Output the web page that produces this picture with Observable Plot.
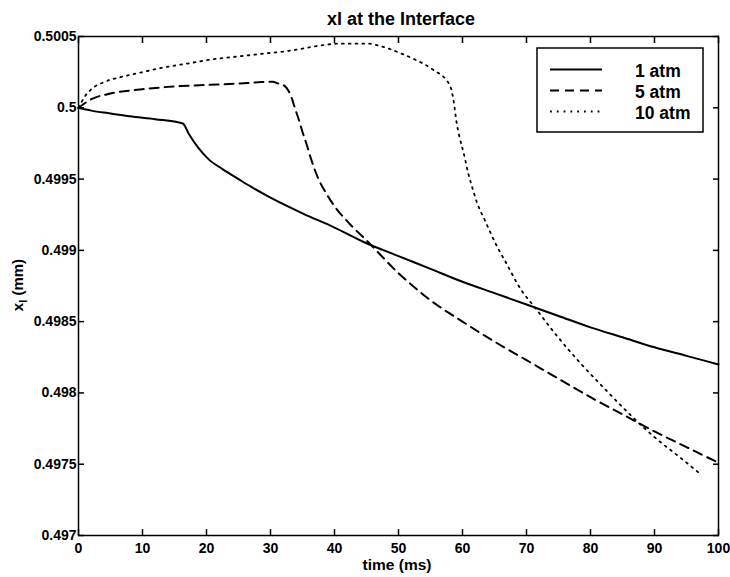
<!DOCTYPE html>
<html><head><meta charset="utf-8">
<script src="https://cdn.jsdelivr.net/npm/d3@7"></script>
<script src="https://cdn.jsdelivr.net/npm/@observablehq/plot@0.6"></script>
<style>
body{margin:0;background:#fff;}
#chart svg{display:block;}
</style>
</head><body><div id="chart"></div>
<script>
const titleText = "xl at the Interface";
const xLabel = "time (ms)";
const seriesNames = ["1 atm", "5 atm", "10 atm"];

const t1 = [0, 2, 5, 8, 12, 16.3, 17.2, 18.7, 20.3, 22.5, 25, 27, 30, 35, 40, 45, 50, 55, 60, 65, 70, 75, 80, 85, 90, 95, 100];
const v1 = [0.5, 0.49998, 0.49996, 0.49994, 0.49992, 0.49989, 0.49982, 0.49972, 0.49964, 0.49957, 0.4995, 0.499445, 0.49937, 0.49926, 0.49916, 0.49905, 0.49896, 0.49887, 0.49878, 0.4987, 0.49862, 0.49854, 0.49846, 0.49839, 0.49832, 0.49826, 0.4982];

const t5 = [0, 2, 5, 10, 15, 20, 25, 28.6, 30.3, 31.2, 32.2, 32.8, 33.3, 33.8, 34.4, 35, 35.6, 36.2, 36.8, 37.5, 38.7, 40, 42.5, 45, 50, 55, 60, 65, 70, 75, 80, 85, 90, 95, 100];
const v5 = [0.5, 0.50006, 0.5001, 0.50013, 0.50015, 0.50016, 0.50017, 0.50018, 0.500182, 0.50017, 0.500154, 0.50012, 0.50007, 0.5, 0.49992, 0.49983, 0.49975, 0.49966, 0.49958, 0.4995, 0.4994, 0.49931, 0.49918, 0.49907, 0.49884, 0.49865, 0.4985, 0.49836, 0.49823, 0.4981, 0.49797, 0.49785, 0.49773, 0.49762, 0.49751];

const t10 = [0, 1, 2, 4, 7, 10, 13, 17, 21, 25, 29, 33, 38.3, 40.8, 45.3, 47, 51, 52.5, 55.3, 58, 58.3, 58.6, 59.1, 59.5, 60.2, 60.9, 61.6, 62.3, 63.4, 65.6, 66.6, 69.2, 71.3, 74.4, 78.6, 82.2, 85.9, 90, 94.2, 97.2];
const v10 = [0.5, 0.50008, 0.50013, 0.50018, 0.50022, 0.50025, 0.50028, 0.50031, 0.50034, 0.50036, 0.50038, 0.5004, 0.50044, 0.50045, 0.50045, 0.500435, 0.50037, 0.50034, 0.50027, 0.50016, 0.50012, 0.50005, 0.49989, 0.4998, 0.49968, 0.49954, 0.49943, 0.49933, 0.49922, 0.49901, 0.49893, 0.49872, 0.4986, 0.49842, 0.4982, 0.49803, 0.49786, 0.49769, 0.49754, 0.49743];

const xTicks = [0, 10, 20, 30, 40, 50, 60, 70, 80, 90, 100];
const yTicks = [0.497, 0.4975, 0.498, 0.4985, 0.499, 0.4995, 0.5, 0.5005];

const styles = [
  {dash: null, width: 2},
  {dash: "9,6", width: 2},
  {dash: "1.8,5", width: 1.8}
];

const toRows = (ts, vs, name) => ts.map((t, i) => ({t, v: vs[i], name}));
const rows = [toRows(t1, v1, seriesNames[0]), toRows(t5, v5, seriesNames[1]), toRows(t10, v10, seriesNames[2])];

const font = "'Liberation Sans', Arial, Helvetica, sans-serif";

const plot = Plot.plot({
  width: 730, height: 577,
  marginLeft: 78, marginRight: 12, marginTop: 36, marginBottom: 42,
  style: {fontFamily: font, fontWeight: "bold", fontSize: "14px", color: "black", background: "white"},
  x: {domain: [0, 100]},
  y: {domain: [0.497, 0.5005]},
  marks: [
    Plot.axisX(xTicks, {anchor: "bottom", tickSize: -6, tickPadding: 14, strokeWidth: 1.5, label: null, tickFormat: d => String(d), fontSize: 14}),
    Plot.axisX(xTicks, {anchor: "top", tickSize: -6, strokeWidth: 1.5, label: null, tickFormat: () => ""}),
    Plot.axisY(yTicks, {anchor: "left", tickSize: -6, tickPadding: 8, strokeWidth: 1.5, label: null, tickFormat: d => String(d), fontSize: 14}),
    Plot.axisY(yTicks, {anchor: "right", tickSize: -6, strokeWidth: 1.5, label: null, tickFormat: () => ""}),
    ...rows.map((r, i) => Plot.line(r, {x: "t", y: "v", curve: "monotone-x", stroke: "black", strokeWidth: styles[i].width, strokeDasharray: styles[i].dash, strokeLinejoin: "round"})),
    Plot.frame({stroke: "black", strokeWidth: 1.5})
  ]
});
document.getElementById("chart").append(plot);

const svg = d3.select(plot);
// title
svg.append("text").attr("x", 401).attr("y", 25).attr("text-anchor", "middle")
  .attr("font-family", font).attr("font-weight", "bold").attr("font-size", 18).text(titleText);
// x label
svg.append("text").attr("x", 397).attr("y", 570).attr("text-anchor", "middle")
  .attr("font-family", font).attr("font-weight", "bold").attr("font-size", 15.5).text(xLabel);
// y label
const yl = svg.append("text").attr("transform", "translate(23,285) rotate(-90)").attr("text-anchor", "middle")
  .attr("font-family", font).attr("font-weight", "bold").attr("font-size", 15);
yl.append("tspan").text("x");
yl.append("tspan").attr("dy", 4).attr("font-size", 11).text("l");
yl.append("tspan").attr("dy", -4).text(" (mm)");

// legend
const lg = svg.append("g");
lg.append("rect").attr("x", 537).attr("y", 48).attr("width", 166).attr("height", 84)
  .attr("fill", "white").attr("stroke", "black").attr("stroke-width", 1.5);
const rowY = [69.5, 90.5, 111.5];
seriesNames.forEach((n, i) => {
  lg.append("line").attr("x1", 550).attr("x2", 602).attr("y1", rowY[i]).attr("y2", rowY[i])
    .attr("stroke", "black").attr("stroke-width", styles[i].width)
    .attr("stroke-dasharray", styles[i].dash);
  lg.append("text").attr("x", 635).attr("y", rowY[i] + 7.5).attr("text-anchor", "start")
    .attr("font-family", font).attr("font-weight", "bold").attr("font-size", 17.5).text(n);
});
</script>
</body></html>
